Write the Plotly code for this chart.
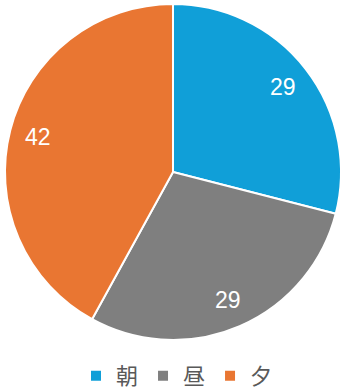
import math
import plotly.graph_objects as go

labels = ["朝", "昼", "夕"]
values = [29, 29, 42]
colors = ["#109fd8", "#7f7f7f", "#e97632"]

W, H = 346, 389
# pie domain in pixels (left, top, right, bottom)
px_l, px_t, px_r, px_b = 4, 4, 342, 340
dom_x = [px_l / W, px_r / W]
dom_y = [1 - px_b / H, 1 - px_t / H]

fig = go.Figure(go.Pie(
    labels=labels,
    values=values,
    sort=False,
    direction="clockwise",
    rotation=0,
    domain=dict(x=dom_x, y=dom_y),
    marker=dict(colors=colors, line=dict(color="white", width=2)),
    textinfo="none",
    hoverinfo="label+value",
))

# data labels at mid-angle of each slice, ~0.83 of radius (Excel-like placement)
cx = (px_l + px_r) / 2
cy = (px_t + px_b) / 2
R = min(px_r - px_l, px_b - px_t) / 2
total = sum(values)
cum = 0
for v in values:
    mid = (cum + v / 2) / total * 2 * math.pi
    cum += v
    x = cx + 0.83 * R * math.sin(mid)
    y = cy - 0.83 * R * math.cos(mid)
    fig.add_annotation(
        x=x / W, y=1 - y / H, xref="paper", yref="paper",
        xanchor="center", yanchor="middle",
        text=str(v), showarrow=False,
        font=dict(color="white", size=23, family="Liberation Sans, Arial"),
    )

fig.update_layout(
    width=W, height=H,
    margin=dict(l=0, r=0, t=0, b=0, autoexpand=False),
    paper_bgcolor="white",
    plot_bgcolor="white",
    showlegend=True,
    legend=dict(
        orientation="h",
        x=0.5 + 4 / W, xanchor="center",
        yref="container",
        y=1 - 376 / H, yanchor="middle",
        font=dict(size=22, color="#595959", family="Noto Sans CJK JP"),
        itemwidth=30,
    ),
)

fig.write_html("out.html")
